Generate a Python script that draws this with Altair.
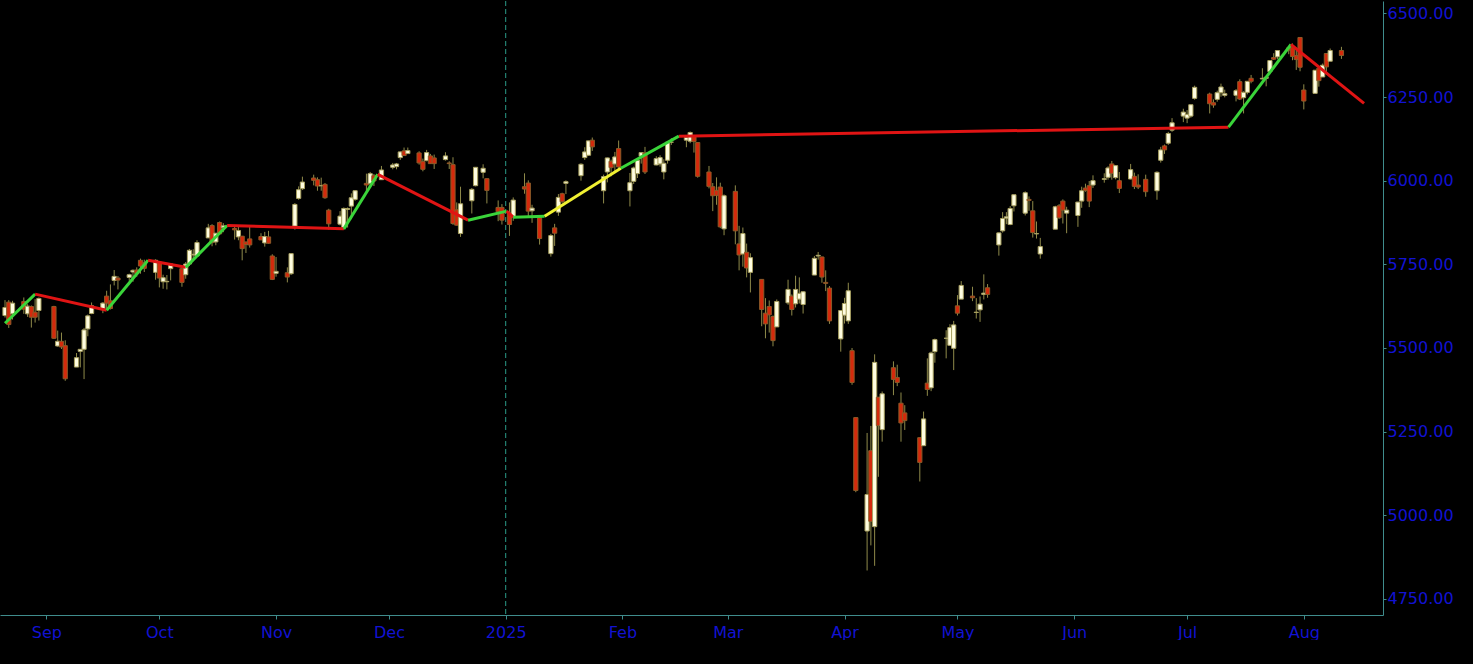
"""
Daily candlesticks with a coloured swing line, black trading-screen look.
"""

import jinja2
import pandas as pd
import altair as alt

# Trading days, one line per month
dates = (
    ["2024-08-%02d" % d for d in [21, 22, 23, 26, 27, 28, 29, 30]]
    + ["2024-09-%02d" % d for d in [3, 4, 5, 6, 9, 10, 11, 12, 13, 16, 17, 18, 19, 20, 23, 24, 25, 26, 27, 30]]
    + ["2024-10-%02d" % d for d in [1, 2, 3, 4, 7, 8, 9, 10, 11, 14, 15, 16, 17, 18, 21, 22, 23, 24, 25, 28, 29, 30, 31]]
    + ["2024-11-%02d" % d for d in [1, 4, 5, 6, 7, 8, 11, 12, 13, 14, 15, 18, 19, 20, 21, 22, 25, 26, 27, 29]]
    + ["2024-12-%02d" % d for d in [2, 3, 4, 5, 6, 9, 10, 11, 12, 13, 16, 17, 18, 19, 20, 23, 24, 26, 27, 30, 31]]
    + ["2025-01-%02d" % d for d in [2, 3, 6, 7, 8, 10, 13, 14, 15, 16, 17, 21, 22, 23, 24, 27, 28, 29, 30, 31]]
    + ["2025-02-%02d" % d for d in [3, 4, 5, 6, 7, 10, 11, 12, 13, 14, 18, 19, 20, 21, 24, 25, 26, 27, 28]]
    + ["2025-03-%02d" % d for d in [3, 4, 5, 6, 7, 10, 11, 12, 13, 14, 17, 18, 19, 20, 21, 24, 25, 26, 27, 28, 31]]
    + ["2025-04-%02d" % d for d in [1, 2, 3, 4, 7, 8, 9, 10, 11, 14, 15, 16, 17, 21, 22, 23, 24, 25, 28, 29, 30]]
    + ["2025-05-%02d" % d for d in [1, 2, 5, 6, 7, 8, 9, 12, 13, 14, 15, 16, 19, 20, 21, 22, 23, 27, 28, 29, 30]]
    + ["2025-06-%02d" % d for d in [2, 3, 4, 5, 6, 9, 10, 11, 12, 13, 16, 17, 18, 20, 23, 24, 25, 26, 27, 30]]
    + ["2025-07-%02d" % d for d in [1, 2, 3, 7, 8, 9, 10, 11, 14, 15, 16, 17, 18, 21, 22, 23, 24, 25, 28, 29, 30, 31]]
    + ["2025-08-%02d" % d for d in [1, 4, 5, 6, 7, 8, 11]]
)

opens = [
    5597, 5637, 5602, 5639, 5602, 5624, 5607, 5612,
    5624, 5506, 5520, 5507, 5443, 5490, 5496, 5557, 5603, 5615, 5655, 5641, 5702, 5709, 5711, 5727, 5733, 5762, 5755, 5726,
    5757, 5698, 5698, 5737, 5737, 5719, 5751, 5778, 5775, 5829, 5866, 5817, 5875, 5860, 5857, 5832, 5834, 5817, 5826, 5833, 5814, 5832, 5775,
    5723, 5725, 5722, 5864, 5947, 5976, 6008, 6003, 5985, 5989, 5912, 5870, 5860, 5914, 5924, 5944, 5992, 5992, 6015, 6003,
    6040, 6042, 6069, 6089, 6081, 6083, 6057, 6060, 6074, 6068, 6063, 6053, 6048, 5913, 5842, 5940, 5985, 6025, 6006, 5920, 5920,
    5903, 5892, 5982, 5993, 5910, 5890, 5782, 5859, 5906, 5961, 5992, 6015, 6069, 6076, 6121, 5970, 6026, 6058, 6050, 6096,
    5970, 5998, 6021, 6073, 6083, 6047, 6050, 6026, 6061, 6115, 6121, 6118, 6134, 6114, 6026, 5982, 5971, 5981, 5856,
    5968, 5811, 5781, 5786, 5726, 5705, 5604, 5624, 5594, 5563, 5635, 5655, 5632, 5646, 5630, 5718, 5775, 5772, 5696, 5679, 5527,
    5598, 5581, 5492, 5292, 4953, 5193, 4966, 5353, 5256, 5441, 5412, 5335, 5306, 5232, 5208, 5395, 5381, 5489, 5529, 5508, 5499,
    5626, 5646, 5655, 5606, 5614, 5660, 5680, 5808, 5850, 5888, 5869, 5925, 5903, 5944, 5910, 5841, 5781, 5855, 5925, 5939, 5903,
    5896, 5939, 5978, 5985, 5987, 6004, 6010, 6050, 6009, 6000, 6005, 6013, 5987, 6004, 5970, 6061, 6104, 6112, 6151, 6193,
    6187, 6193, 6246, 6259, 6233, 6243, 6263, 6255, 6255, 6296, 6248, 6264, 6306, 6304, 6306, 6326, 6368, 6370, 6397, 6399, 6374, 6428,
    6271, 6261, 6336, 6310, 6380, 6357, 6389,
]
highs = [
    5643, 5643, 5641, 5651, 5631, 5627, 5646, 5651,
    5626, 5552, 5546, 5523, 5485, 5497, 5560, 5600, 5636, 5637, 5671, 5690, 5733, 5715, 5722, 5735, 5741, 5767, 5764, 5765,
    5757, 5719, 5718, 5751, 5739, 5757, 5796, 5795, 5822, 5871, 5870, 5843, 5878, 5873, 5866, 5863, 5835, 5817, 5862, 5843, 5847, 5850, 5780,
    5772, 5741, 5783, 5933, 5983, 6012, 6018, 6010, 6009, 5993, 5916, 5909, 5920, 5920, 5962, 5972, 6021, 6026, 6020, 6044,
    6053, 6053, 6087, 6099, 6099, 6088, 6066, 6092, 6080, 6078, 6085, 6058, 6070, 5935, 5982, 5978, 6040, 6049, 6007, 5941, 5930,
    5935, 5950, 6022, 6001, 5928, 5890, 5841, 5871, 5960, 5964, 6001, 6052, 6100, 6119, 6129, 6018, 6069, 6063, 6086, 6120,
    6023, 6042, 6062, 6084, 6101, 6073, 6076, 6064, 6116, 6127, 6129, 6147, 6134, 6114, 6044, 5993, 6010, 5994, 5959,
    5986, 5865, 5860, 5812, 5783, 5705, 5649, 5642, 5597, 5645, 5704, 5660, 5716, 5711, 5670, 5775, 5787, 5773, 5732, 5685, 5613,
    5650, 5695, 5500, 5292, 5246, 5267, 5481, 5353, 5370, 5460, 5450, 5367, 5329, 5232, 5310, 5469, 5489, 5528, 5553, 5571, 5581,
    5658, 5700, 5683, 5649, 5654, 5720, 5691, 5845, 5906, 5906, 5924, 5959, 5968, 5953, 5939, 5878, 5829, 5925, 5930, 5944, 5922,
    5937, 5982, 5991, 5999, 6016, 6022, 6043, 6059, 6045, 6026, 6050, 6024, 6019, 6018, 6028, 6101, 6108, 6146, 6187, 6215,
    6211, 6227, 6284, 6263, 6243, 6269, 6290, 6272, 6274, 6303, 6267, 6298, 6316, 6336, 6310, 6360, 6381, 6390, 6402, 6410, 6392, 6428,
    6288, 6331, 6343, 6350, 6380, 6395, 6400,
]
lows = [
    5591, 5560, 5585, 5602, 5593, 5561, 5576, 5582,
    5527, 5504, 5497, 5402, 5443, 5442, 5407, 5535, 5601, 5604, 5615, 5615, 5687, 5675, 5701, 5698, 5713, 5722, 5727, 5704,
    5681, 5677, 5675, 5702, 5683, 5707, 5745, 5764, 5775, 5829, 5804, 5807, 5840, 5846, 5824, 5822, 5762, 5784, 5800, 5823, 5803, 5812, 5703,
    5713, 5696, 5718, 5854, 5943, 5972, 5986, 5970, 5970, 5946, 5854, 5866, 5853, 5860, 5885, 5940, 5963, 5986, 5984, 6003,
    6034, 6034, 6062, 6075, 6080, 6048, 6028, 6058, 6051, 6035, 6060, 6035, 5868, 5866, 5832, 5902, 5983, 6007, 5932, 5879, 5869,
    5835, 5880, 5961, 5891, 5874, 5809, 5773, 5805, 5895, 5934, 5960, 6000, 6062, 6075, 6089, 5932, 5995, 6013, 6027, 6030,
    5923, 5990, 6008, 6051, 6020, 6046, 6042, 6004, 6051, 6107, 6100, 6112, 6084, 6009, 5977, 5909, 5928, 5858, 5837,
    5810, 5732, 5743, 5711, 5666, 5565, 5529, 5546, 5505, 5563, 5629, 5597, 5621, 5633, 5603, 5718, 5764, 5695, 5670, 5572, 5489,
    5573, 5572, 5390, 5069, 4835, 4910, 4849, 5115, 5220, 5359, 5386, 5220, 5255, 5101, 5208, 5357, 5371, 5456, 5469, 5506, 5434,
    5597, 5646, 5640, 5588, 5578, 5645, 5650, 5776, 5845, 5870, 5867, 5908, 5896, 5910, 5830, 5827, 5767, 5855, 5886, 5872, 5843,
    5862, 5919, 5967, 5921, 5978, 5994, 6003, 6003, 6004, 5963, 6004, 5975, 5975, 5952, 5943, 6054, 6080, 6107, 6146, 6175,
    6172, 6188, 6242, 6201, 6218, 6236, 6251, 6249, 6237, 6241, 6201, 6258, 6291, 6303, 6282, 6318, 6361, 6363, 6378, 6360, 6331, 6327,
    6213, 6261, 6281, 6310, 6317, 6357, 6364,
]
closes = [
    5621, 5570, 5634, 5616, 5625, 5592, 5592, 5648,
    5529, 5520, 5503, 5408, 5471, 5496, 5554, 5596, 5626, 5634, 5634, 5618, 5714, 5703, 5719, 5732, 5722, 5745, 5738, 5762,
    5709, 5710, 5699, 5751, 5696, 5751, 5792, 5780, 5815, 5859, 5815, 5843, 5841, 5865, 5853, 5851, 5797, 5809, 5808, 5823, 5833, 5813, 5705,
    5729, 5712, 5782, 5929, 5973, 5996, 6001, 5984, 5985, 5949, 5871, 5894, 5917, 5917, 5949, 5970, 5987, 6021, 5999, 6032,
    6047, 6050, 6086, 6075, 6090, 6053, 6034, 6084, 6051, 6051, 6074, 6051, 5872, 5867, 5931, 5974, 6040, 6037, 5971, 5907, 5882,
    5869, 5942, 5975, 5909, 5918, 5827, 5836, 5843, 5950, 5937, 5997, 6049, 6086, 6119, 6101, 6012, 6068, 6039, 6071, 6041,
    5994, 6038, 6061, 6084, 6026, 6066, 6069, 6052, 6115, 6115, 6129, 6144, 6117, 6013, 5983, 5955, 5956, 5862, 5955,
    5850, 5778, 5842, 5739, 5770, 5615, 5572, 5599, 5522, 5639, 5675, 5615, 5675, 5663, 5668, 5768, 5777, 5712, 5693, 5581, 5612,
    5633, 5671, 5397, 5074, 5062, 4982, 5457, 5268, 5363, 5406, 5397, 5276, 5283, 5158, 5288, 5376, 5485, 5525, 5529, 5561, 5569,
    5604, 5687, 5650, 5607, 5631, 5664, 5660, 5844, 5887, 5892, 5917, 5958, 5964, 5941, 5845, 5842, 5803, 5922, 5889, 5912, 5912,
    5936, 5970, 5971, 5939, 6000, 6006, 6038, 6022, 6045, 5977, 6033, 5983, 5981, 5967, 6025, 6092, 6092, 6141, 6173, 6205,
    6198, 6227, 6279, 6230, 6226, 6263, 6280, 6260, 6269, 6244, 6264, 6297, 6297, 6306, 6309, 6359, 6363, 6389, 6390, 6371, 6362, 6339,
    6238, 6330, 6299, 6345, 6340, 6389, 6374,
]

# Swing line: turning points and the colour of each leg
swing_dates = [
    "2024-08-21", "2024-08-29", "2024-09-17", "2024-09-28", "2024-10-08",
    "2024-10-19", "2024-11-19", "2024-11-28", "2024-12-22", "2025-01-01T06:00",
    "2025-01-03", "2025-01-11T08:00", "2025-01-31T14:00", "2025-02-16",
    "2025-07-12", "2025-07-28T14:00", "2025-08-17",
]
swing_values = [
    5574, 5661, 5613, 5762, 5741, 5866, 5856, 6019, 5882, 5909,
    5891, 5894, 6037, 6133, 6160, 6407, 6231,
]
leg_colours = [
    "green", "red", "green", "red", "green", "red", "green", "red",
    "green", "red", "green", "yellow", "green", "red", "green", "red",
]

y_ticks = [4750, 5000, 5250, 5500, 5750, 6000, 6250, 6500]

TEAL = "#3f8c8c"
BLUE = "#1212d2"
LINE_COLOURS = {"green": "#3ad43a", "red": "#e01414", "yellow": "#f0f032"}

candles = pd.DataFrame({
    "date": pd.to_datetime(dates),
    "open": opens,
    "high": highs,
    "low": lows,
    "close": closes,
})

legs = []
for i, colour in enumerate(leg_colours):
    for j in (i, i + 1):
        legs.append({
            "leg": i,
            "date": pd.Timestamp(swing_dates[j]),
            "value": swing_values[j],
            "colour": LINE_COLOURS[colour],
        })
legs = pd.DataFrame(legs)

month_ticks = [alt.DateTime(year=2024, month=m, date=1) for m in range(9, 13)] + [
    alt.DateTime(year=2025, month=m, date=1) for m in range(1, 9)
]

x_scale = alt.Scale(
    domain=[alt.DateTime(year=2024, month=8, date=21),
            alt.DateTime(year=2025, month=8, date=20, hours=17)],
    nice=False,
)
x_axis = alt.Axis(
    values=month_ticks,
    labelExpr="month(datum.value) == 0 ? timeFormat(datum.value, '%Y') : timeFormat(datum.value, '%b')",
    title=None, grid=False, domainColor=TEAL, tickColor=TEAL, tickSize=4,
    labelColor=BLUE, labelFont="DejaVu Sans", labelFontSize=16,
    labelPadding=5, labelFlush=False,
)
y_scale = alt.Scale(domain=[4702, 6537], nice=False, zero=False)
y_axis = alt.Axis(
    orient="right", values=y_ticks, format=".2f", title=None, grid=False,
    domainColor=TEAL, tickColor=TEAL, tickSize=3,
    labelColor=BLUE, labelFont="DejaVu Sans", labelFontSize=16, labelPadding=1,
)

x_enc = alt.X("date:T", scale=x_scale, axis=x_axis)

year_line = alt.Chart(pd.DataFrame({"date": [pd.Timestamp("2025-01-01")]})).mark_rule(
    color="#2a9a88", strokeDash=[5, 3], strokeWidth=1
).encode(x=x_enc)

wicks = alt.Chart(candles).mark_rule(color="#8f8a4a", strokeWidth=1, clip=True).encode(
    x=x_enc,
    y=alt.Y("low:Q", scale=y_scale, axis=y_axis),
    y2="high:Q",
)

bodies = alt.Chart(candles).mark_bar(size=4.2, strokeWidth=1, clip=True).encode(
    x=x_enc,
    y=alt.Y("open:Q", scale=y_scale, axis=y_axis),
    y2="close:Q",
    fill=alt.condition("datum.close >= datum.open", alt.value("#fffde0"), alt.value("#d42a0c")),
    stroke=alt.condition("datum.close >= datum.open", alt.value("#a8a060"), alt.value("#8c5a28")),
)

swing = alt.Chart(legs).mark_line(strokeWidth=3, clip=True).encode(
    x=x_enc,
    y=alt.Y("value:Q", scale=y_scale, axis=y_axis),
    detail="leg:N",
    color=alt.Color("colour:N", scale=None),
)

chart = alt.layer(year_line, wicks, bodies, swing).properties(
    width=1383, height=614, padding=0, background="black"
).configure_view(strokeWidth=0)

# Page without the default white body margin
PAGE = jinja2.Template("""<!DOCTYPE html>
<html>
<head>
  <style>html, body { margin: 0; padding: 0; background: #000; overflow: hidden; }</style>
  <script type="text/javascript" src="{{ base_url }}/vega@{{ vega_version }}"></script>
  <script type="text/javascript" src="{{ base_url }}/vega-lite@{{ vegalite_version }}"></script>
  <script type="text/javascript" src="{{ base_url }}/vega-embed@{{ vegaembed_version }}"></script>
</head>
<body>
  <div id="{{ output_div }}"></div>
  <script type="text/javascript">
    vegaEmbed("#{{ output_div }}", {{ spec }}, {{ embed_options }}).catch(console.error);
  </script>
</body>
</html>
""")

chart.save("out.html", embed_options={"renderer": "svg", "actions": False}, template=PAGE)
